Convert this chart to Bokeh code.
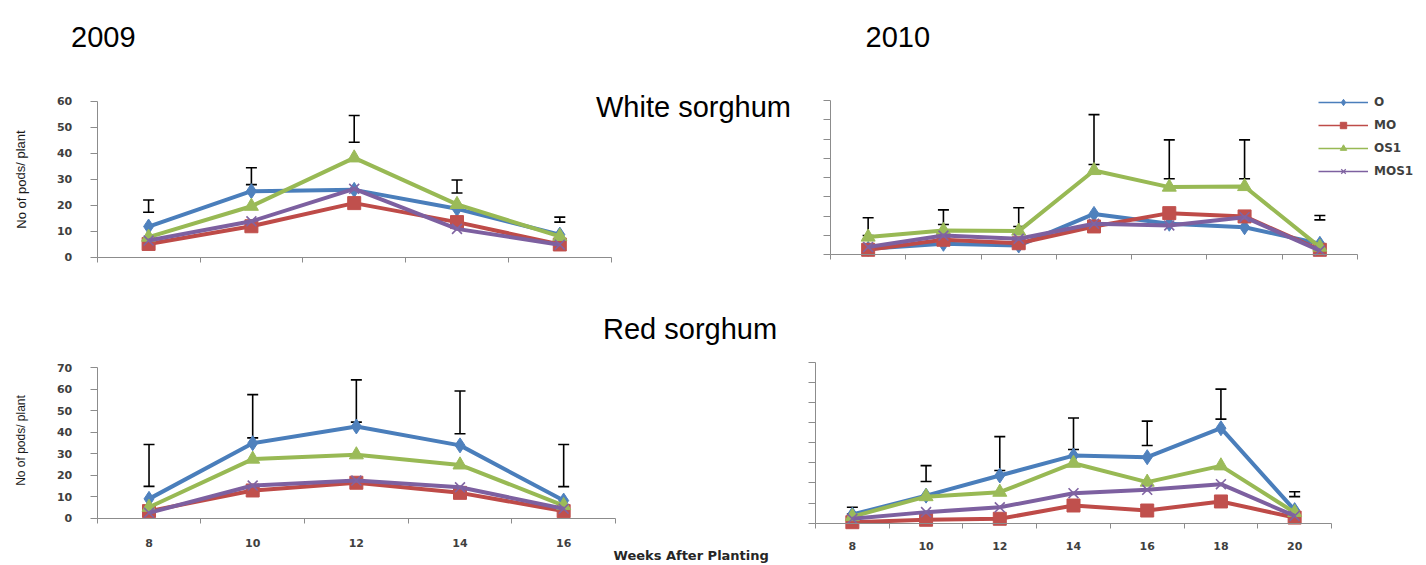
from bokeh.plotting import figure
from bokeh.models import (Range1d, FixedTicker, Whisker, TeeHead, ColumnDataSource,
                          Label, Legend, LegendItem, LinearAxis)
from bokeh.layouts import column, row
from bokeh.embed import file_html
from bokeh.resources import INLINE

# ---------------- data ----------------
series_names = ["O", "MO", "OS1", "MOS1"]
weeks_2009 = [8, 10, 12, 14, 16]
weeks_2010 = [8, 10, 12, 14, 16, 18, 20]

# White sorghum 2009
white09_O = [11.8, 25.4, 25.9, 18.6, 8.7]
white09_MO = [5.1, 11.9, 20.8, 13.5, 4.9]
white09_OS1 = [7.7, 19.6, 38.2, 20.3, 8.0]
white09_MOS1 = [6.4, 13.8, 26.3, 10.9, 4.8]
white09_err_lo = [17.3, 27.9, 44.2, 24.7, 13.5]
white09_err_hi = [22.0, 34.4, 54.5, 29.7, 15.4]

# White sorghum 2010
white10_O = [3.1, 5.7, 4.8, 21.2, 16.1, 14.3, 5.7]
white10_MO = [2.6, 7.8, 6.0, 14.7, 21.6, 19.9, 2.6]
white10_OS1 = [9.2, 12.6, 12.3, 43.7, 35.1, 35.4, 4.0]
white10_MOS1 = [4.0, 10.0, 8.3, 16.1, 15.2, 19.5, 2.2]
white10_err_lo = [10.0, 15.7, 14.7, 46.8, 39.4, 39.4, 18.1]
white10_err_hi = [19.2, 23.3, 24.4, 72.7, 59.6, 59.6, 20.4]

# Red sorghum 2009
red09_O = [9.0, 34.9, 42.7, 33.9, 8.2]
red09_MO = [3.3, 12.9, 16.5, 11.8, 3.3]
red09_OS1 = [5.1, 27.5, 29.5, 24.8, 5.9]
red09_MOS1 = [2.5, 15.2, 17.5, 14.4, 4.4]
red09_err_lo = [14.8, 37.4, 44.7, 39.3, 14.7]
red09_err_hi = [34.3, 57.5, 64.4, 59.2, 34.3]

# Red sorghum 2010
red10_O = [4.3, 13.7, 23.7, 33.6, 32.8, 47.2, 6.5]
red10_MO = [0.5, 1.7, 2.2, 8.8, 6.3, 10.8, 2.8]
red10_OS1 = [3.3, 13.2, 15.4, 29.8, 20.4, 28.5, 5.3]
red10_MOS1 = [2.2, 5.5, 7.9, 14.9, 16.6, 19.4, 3.6]
red10_err_lo = [4.6, 20.7, 26.2, 36.6, 38.6, 51.7, 13.2]
red10_err_hi = [7.9, 28.6, 43.0, 52.3, 50.7, 66.6, 15.6]

y_ticks_white_2009 = [0, 10, 20, 30, 40, 50, 60]
y_ticks_red_2009 = [0, 10, 20, 30, 40, 50, 60, 70]
y_ticks_2010 = [0, 10, 20, 30, 40, 50, 60, 70, 80]

# ---------------- styles ----------------
LINE_COLORS = {"O": "#4A7EBB", "MO": "#BE4B48", "OS1": "#98B954", "MOS1": "#7D60A0"}
MARK_COLORS = {"O": "#4F81BD", "MO": "#C0504D", "OS1": "#9BBB59", "MOS1": "#8064A2"}
MARKERS = {"O": "diamond", "MO": "square", "OS1": "triangle", "MOS1": "x"}
MSIZE = {"O": 15, "MO": 13, "OS1": 14, "MOS1": 14}
AXIS_COLOR = "#8C8C8C"
TICK_FONT = "DejaVu Sans"
TICK_COLOR = "#3F3F3F"
TITLE_FONT = "Liberation Sans"


class Panel:
    """A figure whose plotting frame fills its whole canvas; the axes are
    placed at fixed data locations, so the text around them is not clipped."""

    def __init__(self, canvas, frame, weeks, yticks):
        cx, cy, W, H = canvas
        left, right, top, bottom = frame
        self.left, self.bottom = left, bottom
        self.x0, self.x1 = weeks[0] - 1, weeks[-1] + 1
        self.y0, self.y1 = yticks[0], yticks[-1]
        self.kx = (right - left) / (self.x1 - self.x0)
        self.ky = (bottom - top) / (self.y1 - self.y0)
        xr = Range1d(self.dx(cx), self.dx(cx + W))
        yr = Range1d(self.dy(cy + H), self.dy(cy))
        p = figure(width=W, height=H, output_backend="svg", toolbar_location=None,
                   x_range=xr, y_range=yr, x_axis_location=None, y_axis_location=None,
                   min_border=0)
        p.min_border_left = p.min_border_right = p.min_border_top = p.min_border_bottom = 0
        p.title.visible = False
        p.outline_line_color = None
        p.grid.visible = False
        p.border_fill_color = None
        self.p = p
        self.weeks = weeks
        self.yticks = yticks
        self.values = None

    # image pixel -> data
    def dx(self, px):
        return self.x0 + (px - self.left) / self.kx

    def dy(self, py):
        return self.y0 + (self.bottom - py) / self.ky

    def axes(self, xlabels, ylabels, xstandoff=16):
        p = self.p
        boundaries = [w - 1 for w in self.weeks] + [self.weeks[-1] + 1]
        xa = LinearAxis(fixed_location=self.y0, bounds=(self.x0, self.x1),
                        ticker=FixedTicker(ticks=self.weeks, minor_ticks=boundaries))
        xa.axis_line_color = AXIS_COLOR
        xa.major_tick_line_color = AXIS_COLOR
        xa.minor_tick_line_color = AXIS_COLOR
        xa.major_tick_out = 0
        xa.major_tick_in = 0
        xa.minor_tick_out = 5
        xa.minor_tick_in = 0
        xa.major_label_text_font = TICK_FONT
        xa.major_label_text_font_style = "bold"
        xa.major_label_text_color = TICK_COLOR
        if xlabels:
            xa.major_label_text_font_size = "11px"
            xa.major_label_standoff = xstandoff
        else:
            xa.major_label_text_font_size = "0px"
            xa.major_label_overrides = {w: "" for w in self.weeks}
        p.add_layout(xa, "below")

        ya = LinearAxis(fixed_location=self.x0, bounds=(self.y0, self.y1),
                        ticker=FixedTicker(ticks=self.yticks, minor_ticks=[]))
        ya.axis_line_color = AXIS_COLOR
        ya.major_tick_line_color = AXIS_COLOR
        ya.major_tick_out = 7
        ya.major_tick_in = 0
        ya.minor_tick_out = 0
        ya.minor_tick_in = 0
        ya.major_label_text_font = TICK_FONT
        ya.major_label_text_font_style = "bold"
        ya.major_label_text_color = TICK_COLOR
        if ylabels:
            ya.major_label_text_font_size = "11px"
            ya.major_label_standoff = 18
        else:
            ya.major_label_text_font_size = "0px"
            ya.major_label_overrides = {t: "" for t in self.yticks}
        p.add_layout(ya, "left")

    def series(self, values, err_lo, err_hi):
        p = self.p
        self.values = values
        for name in series_names:
            ys = values[name]
            p.line(self.weeks, ys, line_color=LINE_COLORS[name], line_width=4,
                   line_join="round")
            if MARKERS[name] == "x":
                p.scatter(self.weeks, ys, marker="x", size=MSIZE[name],
                          line_color=MARK_COLORS[name], line_width=1.6)
            else:
                p.scatter(self.weeks, ys, marker=MARKERS[name], size=MSIZE[name],
                          fill_color=MARK_COLORS[name], line_color=MARK_COLORS[name])
        src = ColumnDataSource(dict(base=self.weeks, lower=err_lo, upper=err_hi))
        w = Whisker(source=src, base="base", lower="lower", upper="upper",
                    line_color="black", line_width=1.6,
                    upper_head=TeeHead(size=11, line_color="black", line_width=1.6),
                    lower_head=TeeHead(size=11, line_color="black", line_width=1.6))
        p.add_layout(w)

    def legend(self, vx, vy):
        """Legend keys drawn thin, as in the original (hidden duplicate renderers)."""
        p = self.p
        items = []
        for name in series_names:
            ys = self.values[name]
            rl = p.line(self.weeks, ys, line_color=LINE_COLORS[name], line_width=1.5,
                        visible=False)
            if MARKERS[name] == "x":
                rm = p.scatter(self.weeks, ys, marker="x", size=9,
                               line_color=MARK_COLORS[name], line_width=1.2, visible=False)
            else:
                rm = p.scatter(self.weeks, ys, marker=MARKERS[name], size=9,
                               fill_color=MARK_COLORS[name], line_color=MARK_COLORS[name],
                               visible=False)
            items.append(LegendItem(label=name, renderers=[rl, rm], index=0))
        leg = Legend(items=items, location=(vx, vy), padding=0, margin=0, spacing=7,
                     glyph_width=50, glyph_height=16, label_height=16, label_standoff=6,
                     label_text_font=TICK_FONT, label_text_font_size="12px",
                     label_text_font_style="bold", label_text_color=TICK_COLOR,
                     background_fill_alpha=0, border_line_color=None,
                     inactive_fill_alpha=0)
        p.add_layout(leg, "center")

    def text(self, text, px, py, size, font=TITLE_FONT, style="normal", angle=0,
             align="left", baseline="alphabetic", color="black"):
        self.p.add_layout(Label(x=self.dx(px), y=self.dy(py), text=text,
                                text_font=font, text_font_size=size,
                                text_font_style=style, angle=angle, text_align=align,
                                text_baseline=baseline, text_color=color))


# ---------------- panels (canvas x, y, w, h ; frame left, right, top, bottom) ----------------
tl = Panel((0, 0, 800, 290), (96.7, 610.7, 100.7, 256.7), weeks_2009, y_ticks_white_2009)
tl.axes(xlabels=False, ylabels=True)
tl.series({"O": white09_O, "MO": white09_MO, "OS1": white09_OS1, "MOS1": white09_MOS1},
          white09_err_lo, white09_err_hi)
tl.text("2009", 70.5, 36, "29px")
tl.text("White sorghum", 595.5, 106, "29px")
tl.text("No of pods/ plant", 20.5, 179, "13px", angle=1.5708, align="center",
        baseline="middle", color="#1a1a1a")

tr = Panel((800, 0, 626, 290), (830, 1357, 100, 254.3), weeks_2010, y_ticks_2010)
tr.axes(xlabels=False, ylabels=False)
tr.series({"O": white10_O, "MO": white10_MO, "OS1": white10_OS1, "MOS1": white10_MOS1},
          white10_err_lo, white10_err_hi)
tr.text("2010", 865, 36, "29px")
tr.legend(518, 111)

bl = Panel((0, 290, 805, 275), (96.7, 615, 367.3, 517.7), weeks_2009, y_ticks_red_2009)
bl.axes(xlabels=True, ylabels=True, xstandoff=16)
bl.series({"O": red09_O, "MO": red09_MO, "OS1": red09_OS1, "MOS1": red09_MOS1},
          red09_err_lo, red09_err_hi)
bl.text("Red sorghum", 602.5, 328.5, "29px")
bl.text("No of pods/ plant", 20.5, 440, "12px", angle=1.5708, align="center",
        baseline="middle", color="#1a1a1a")
bl.text("Weeks After Planting", 613, 555, "13px", font="DejaVu Sans", style="bold",
        color="#262626")

br = Panel((805, 290, 621, 275), (815, 1331, 361.7, 522.7), weeks_2010, y_ticks_2010)
br.axes(xlabels=True, ylabels=False, xstandoff=14)
br.series({"O": red10_O, "MO": red10_MO, "OS1": red10_OS1, "MOS1": red10_MOS1},
          red10_err_lo, red10_err_hi)

layout = column(row(tl.p, tr.p), row(bl.p, br.p))
open("out.html", "w").write(file_html(layout, INLINE))
